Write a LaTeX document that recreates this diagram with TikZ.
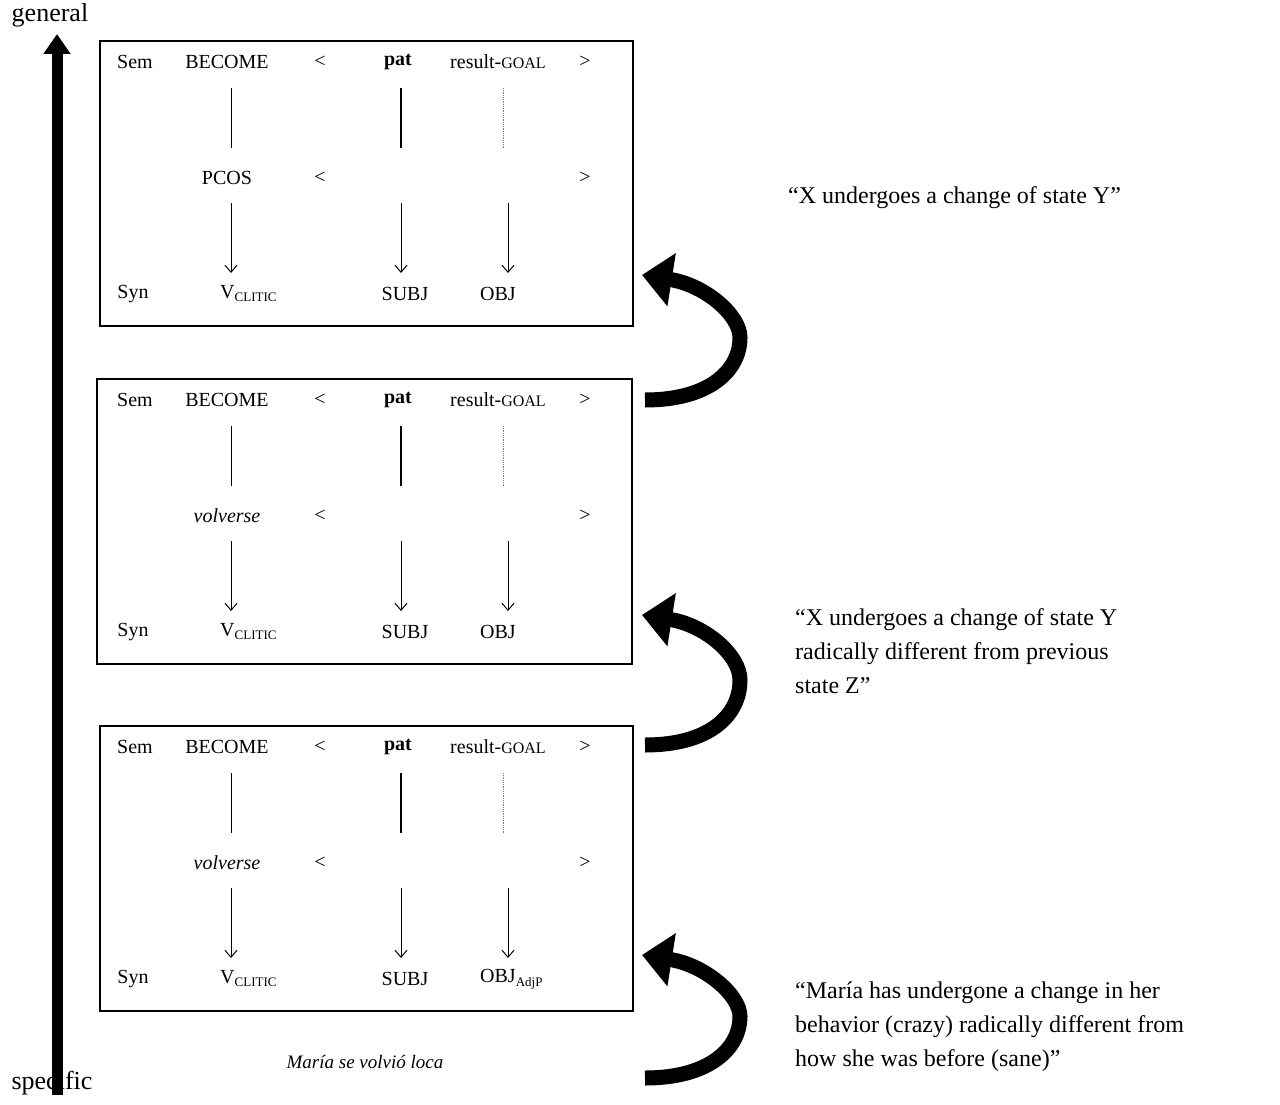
\documentclass[tikz,border=0pt]{standalone}
\usepackage{fontspec}
\setmainfont{Liberation Serif}
\usetikzlibrary{arrows.meta}
\begin{document}
\begin{tikzpicture}[x=1pt,y=-1pt,
  every node/.style={font=\fontsize{20}{22}\selectfont, inner sep=0pt},
  frame/.style={draw, line width=1.2pt},
  link/.style={line width=0.8pt},
  dn/.style={-{Straight Barb[length=7pt,width=12pt]}, line width=1pt},
  curlarrow/.style={line width=15pt, -{Triangle[length=30pt,width=52pt]}},
  quote/.style={font=\fontsize{24}{34}\selectfont, align=left, anchor=north west}]
\useasboundingbox (0,0) rectangle (1280,1105);
\newcommand{\cl}{\raisebox{-3pt}{\fontsize{13}{13}\selectfont CLITIC}}
\newcommand{\panel}[5]{%
 \begin{scope}[yshift=#1]
 \draw[frame] (#2,41) rectangle (#3,326);
 \node (sem#5) at (135,62) {Sem};
 \node (bec#5) at (227,62) {BECOME};
 \node (lt#5) at (320,62) {<};
 \node (pat#5) at (398,62) {\textbf{pat}};
 \node (res#5) at (498,62) {result-{\fontsize{16}{16}\selectfont GOAL}};
 \node (gt#5) at (585,62) {>};
 \node (mid#5) at (227,178) {#4};
 \node (lt2#5) at (320,178) {<};
 \node (gt2#5) at (585,178) {>};
 \node (syn#5) at (133,294) {Syn};
 \node[anchor=west] (v#5) at (220,294) {V\cl};
 \node (subj#5) at (405,294) {SUBJ};
 \node[anchor=west] (obj#5) at (480,294) {OBJ\ifx#5c\raisebox{-4pt}{\fontsize{13}{13}\selectfont AdjP}\fi};
 \coordinate (a1#5) at (231,88); \coordinate (b1#5) at (231,148);
 \coordinate (a2#5) at (401,88); \coordinate (b2#5) at (401,148);
 \coordinate (a3#5) at (503,88); \coordinate (b3#5) at (503,148);
 \draw[link] (a1#5) -- (b1#5);
 \draw[line width=1.3pt] (a2#5) -- (b2#5);
 \draw[link, densely dotted, gray] (a3#5) -- (b3#5);
 \coordinate (c1#5) at (231,203); \coordinate (d1#5) at (231,273);
 \coordinate (c2#5) at (401,203); \coordinate (d2#5) at (401,273);
 \coordinate (c3#5) at (508,203); \coordinate (d3#5) at (508,273);
 \draw[dn] (c1#5) -- (d1#5);
 \draw[dn] (c2#5) -- (d2#5);
 \draw[dn] (c3#5) -- (d3#5);
 \end{scope}}
\panel{0}{100}{633}{PCOS}{a}
\panel{-338}{97}{632}{\textit{volverse}}{b}
\panel{-685}{100}{633}{\textit{volverse}}{c}
% vertical axis
\node (gen) at (50,15) {\fontsize{26}{26}\selectfont general};
\node (spec) at (52,1083) {\fontsize{26}{26}\selectfont specific};
\coordinate (axb) at (57,1095); \coordinate (axt) at (57,34);
\draw[line width=11pt, -{Triangle[length=20pt,width=26pt]}] (axb) -- (axt);
% curved arrows
\newcommand{\curl}[3]{%
 \coordinate (t#3) at (645,#1); \coordinate (h#3) at (642,#2);
 \draw[curlarrow] (t#3) .. controls (710,#1) and (740,#1-30) .. (740,{(#1+#2)/2}) .. controls (740,#2+40) and (705,#2+10) .. (h#3);}
\curl{400}{275}{1}
\curl{745}{615}{2}
\curl{1078}{955}{3}
% quotes
\node[quote] (q1) at (788,186) {“X undergoes a change of state Y”};
\node[quote] (q2) at (795,608) {“X undergoes a change of state Y\\radically different from previous\\state Z”};
\node[quote] (q3) at (795,982) {“María has undergone a change in her\\behavior (crazy) radically different from\\how she was before (sane)”};
\node (cap) at (365,1062) {\fontsize{19}{19}\selectfont\itshape María se volvió loca};
\end{tikzpicture}
\end{document}
